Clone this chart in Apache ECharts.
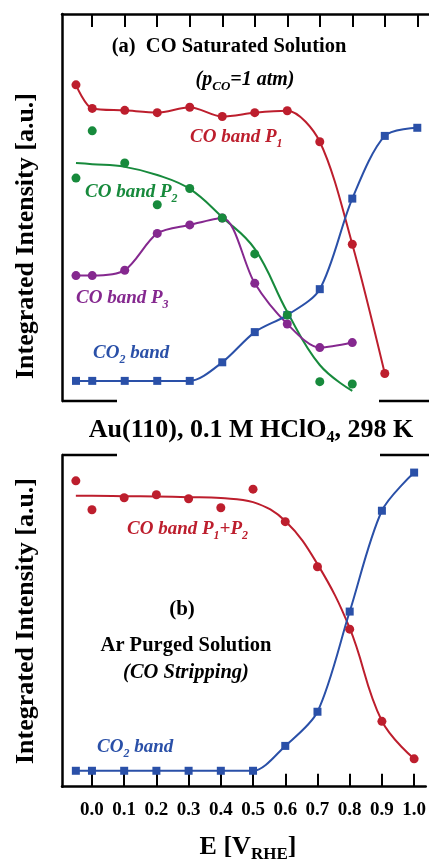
<!DOCTYPE html>
<html><head><meta charset="utf-8">
<script src="https://cdn.jsdelivr.net/npm/echarts@6/dist/echarts.min.js"></script>
<style>html,body{margin:0;padding:0;background:#fff}#c{width:429px;height:865px}</style>
</head><body><div id="c"></div>
<script>
// ---- data ----
const xTicks = [0.0, 0.1, 0.2, 0.3, 0.4, 0.5, 0.6, 0.7, 0.8, 0.9, 1.0];
// panel (a): CO saturated solution
const xA_P1 = [-0.05, 0.0, 0.1, 0.2, 0.3, 0.4, 0.5, 0.6, 0.7, 0.8, 0.9];
const yA_P1 = [81.7, 75.6, 75.1, 74.5, 75.9, 73.5, 74.5, 75.0, 67.0, 40.5, 7.1];
const xA_P2 = [-0.05, 0.0, 0.1, 0.2, 0.3, 0.4, 0.5, 0.6, 0.7, 0.8];
const yA_P2 = [57.6, 69.8, 61.5, 50.7, 54.9, 47.3, 38.0, 22.2, 5.0, 4.4];
const yA_P2fit = [61.5, 61.2, 60.5, 58.4, 54.8, 47.5, 39.3, 23.0, 9.3, 2.6];
const xA_P3 = [-0.05, 0.0, 0.1, 0.2, 0.3, 0.4, 0.5, 0.6, 0.7, 0.8];
const yA_P3 = [32.4, 32.4, 33.8, 43.3, 45.5, 47.3, 30.4, 19.9, 13.8, 15.1];
const xA_CO2 = [-0.05, 0.0, 0.1, 0.2, 0.3, 0.4, 0.5, 0.6, 0.7, 0.8, 0.9, 1.0];
const yA_CO2 = [5.2, 5.2, 5.2, 5.2, 5.2, 10.0, 17.8, 22.2, 28.9, 52.3, 68.5, 70.6];
// panel (b): Ar purged solution (CO stripping)
const xB = [-0.05, 0.0, 0.1, 0.2, 0.3, 0.4, 0.5, 0.6, 0.7, 0.8, 0.9, 1.0];
const yB_P12 = [92.2, 83.5, 87.1, 88.0, 86.8, 84.1, 89.7, 79.9, 66.3, 47.5, 19.7, 8.4];
const yB_P12fit = [87.7, 87.7, 87.6, 87.5, 87.3, 87.0, 85.8, 80.1, 67.1, 47.8, 19.8, 8.4];
const yB_CO2 = [4.8, 4.8, 4.8, 4.8, 4.8, 4.8, 4.8, 12.3, 22.6, 52.8, 83.2, 94.7];

const RED = '#bd1e2d', GREEN = '#178a3c', PURPLE = '#85288f', BLUE = '#2a50a8';
const SERIF = '"Liberation Serif","Times New Roman",serif';
const pairs = (xs, ys) => xs.map((x, i) => [x, ys[i]]);

const chart = echarts.init(document.getElementById('c'), null, {renderer: 'canvas'});

const baseX = {
  type: 'value', min: -0.093, max: 1.036,
  splitLine: {show: false}, axisLabel: {show: false}, axisTick: {show: false},
  axisLine: {show: false, onZero: false}
};
const baseY = {
  type: 'value', min: 0, max: 100,
  splitLine: {show: false}, axisLabel: {show: false}, axisTick: {show: false},
  axisLine: {show: true, onZero: false, lineStyle: {color: '#000', width: 2.5}}
};
function lineSeries(xi, yi, data, color, sym, smooth) {
  return {type: 'line', xAxisIndex: xi, yAxisIndex: yi, data: data, smooth: smooth,
    symbol: sym, symbolSize: sym === 'rect' ? 8 : 9, showSymbol: sym !== 'none',
    itemStyle: {color: color, opacity: 1}, lineStyle: {color: color, width: 2}, z: 3, animation: false};
}
function scatter(xi, yi, data, color) {
  return {type: 'scatter', xAxisIndex: xi, yAxisIndex: yi, data: data, symbol: 'circle',
    symbolSize: 9, itemStyle: {color: color, opacity: 1}, z: 4, animation: false};
}
function txt(x, y, rich, parts, align) {
  return {type: 'text', x: x, y: y, z: 10,
    style: {text: parts, rich: rich, align: align || 'center', verticalAlign: 'middle'}};
}
function richFor(color, size, italic, subSize) {
  const st = italic ? 'italic' : 'normal';
  return {
    n: {fontFamily: SERIF, fontSize: size, fontWeight: 'bold', fontStyle: st, fill: color, color: color, lineHeight: size + 6, verticalAlign: 'middle'},
    s: {fontFamily: SERIF, fontSize: subSize || Math.round(size * 0.65), fontWeight: 'bold', fontStyle: st, fill: color, color: color, lineHeight: 10, verticalAlign: 'bottom'}
  };
}

const option = {
  animation: false,
  backgroundColor: '#fff',
  grid: [
    {left: 62, top: 14, right: 0, height: 387},
    {left: 62, top: 455, right: 0, height: 331.7}
  ],
  xAxis: [
    Object.assign({}, baseX, {gridIndex: 0, position: 'top',
      axisLine: {show: true, onZero: false, lineStyle: {color: '#000', width: 2.5}},
      axisTick: {show: true, inside: true, length: 13, customValues: xTicks, lineStyle: {color: '#000', width: 2}}}),
    Object.assign({}, baseX, {gridIndex: 1, position: 'bottom',
      axisLine: {show: true, onZero: false, lineStyle: {color: '#000', width: 2.5}},
      axisTick: {show: true, inside: true, length: 13, customValues: xTicks, lineStyle: {color: '#000', width: 2}},
      axisLabel: {show: true, customValues: xTicks, margin: 14, color: '#000', fontFamily: SERIF, fontWeight: 'bold', fontSize: 19,
        hideOverlap: false, showMaxLabel: true, formatter: v => v.toFixed(1)}})
  ],
  yAxis: [
    Object.assign({}, baseY, {gridIndex: 0}),
    Object.assign({}, baseY, {gridIndex: 1})
  ],
  series: [
    lineSeries(0, 0, pairs(xA_P1, yA_P1), RED, 'circle', 0.3),
    scatter(0, 0, pairs(xA_P2, yA_P2), GREEN),
    lineSeries(0, 0, pairs(xA_P2, yA_P2fit), GREEN, 'none', 0.4),
    lineSeries(0, 0, pairs(xA_P3, yA_P3), PURPLE, 'circle', 0.3),
    lineSeries(0, 0, pairs(xA_CO2, yA_CO2), BLUE, 'rect', 0.3),
    scatter(1, 1, pairs(xB, yB_P12), RED),
    lineSeries(1, 1, pairs(xB, yB_P12fit), RED, 'none', 0.4),
    lineSeries(1, 1, pairs(xB, yB_CO2), BLUE, 'rect', 0.3)
  ],
  graphic: [
    // broken frame segments between panels
    {type: 'line', shape: {x1: 62, y1: 401, x2: 117, y2: 401}, style: {stroke: '#000', lineWidth: 2.5}},
    {type: 'line', shape: {x1: 379, y1: 401, x2: 440, y2: 401}, style: {stroke: '#000', lineWidth: 2.5}},
    {type: 'line', shape: {x1: 62, y1: 455, x2: 117, y2: 455}, style: {stroke: '#000', lineWidth: 2.5}},
    {type: 'line', shape: {x1: 380, y1: 455, x2: 440, y2: 455}, style: {stroke: '#000', lineWidth: 2.5}},
    // y titles
    {type: 'text', x: 26, y: 236, rotation: Math.PI / 2, z: 10,
      style: {text: 'Integrated Intensity [a.u.]', fontFamily: SERIF, fontWeight: 'bold', fontSize: 26, fill: '#000', align: 'center', verticalAlign: 'middle'}},
    {type: 'text', x: 26, y: 621, rotation: Math.PI / 2, z: 10,
      style: {text: 'Integrated Intensity [a.u.]', fontFamily: SERIF, fontWeight: 'bold', fontSize: 26, fill: '#000', align: 'center', verticalAlign: 'middle'}},
    // panel titles
    txt(229, 47, richFor('#000', 20.5, false), '{n|(a)  CO Saturated Solution}'),
    txt(245, 80, richFor('#000', 20, true, 13), '{n|(p}{s|CO}{n|=1 atm)}'),
    txt(251, 430, richFor('#000', 26, false, 16), '{n|Au(110), 0.1 M HClO}{s|4}{n|, 298 K}'),
    txt(182, 610, richFor('#000', 21, false), '{n|(b)}'),
    txt(186, 646, richFor('#000', 20.5, false), '{n|Ar Purged Solution}'),
    txt(186, 673, richFor('#000', 20.5, true), '{n|(CO Stripping)}'),
    txt(248, 847, richFor('#000', 26, false, 17), '{n|E [V}{s|RHE}{n|]}'),
    // series labels
    txt(190, 137, richFor(RED, 19, true, 12), '{n|CO band P}{s|1}', 'left'),
    txt(85, 192, richFor(GREEN, 19, true, 12), '{n|CO band P}{s|2}', 'left'),
    txt(76, 298, richFor(PURPLE, 19, true, 12), '{n|CO band P}{s|3}', 'left'),
    txt(93, 353, richFor(BLUE, 19, true, 12), '{n|CO}{s|2}{n| band}', 'left'),
    txt(127, 529, richFor(RED, 19, true, 12), '{n|CO band P}{s|1}{n|+P}{s|2}', 'left'),
    txt(97, 747, richFor(BLUE, 19, true, 12), '{n|CO}{s|2}{n| band}', 'left')
  ]
};
chart.setOption(option);
</script>
</body></html>
